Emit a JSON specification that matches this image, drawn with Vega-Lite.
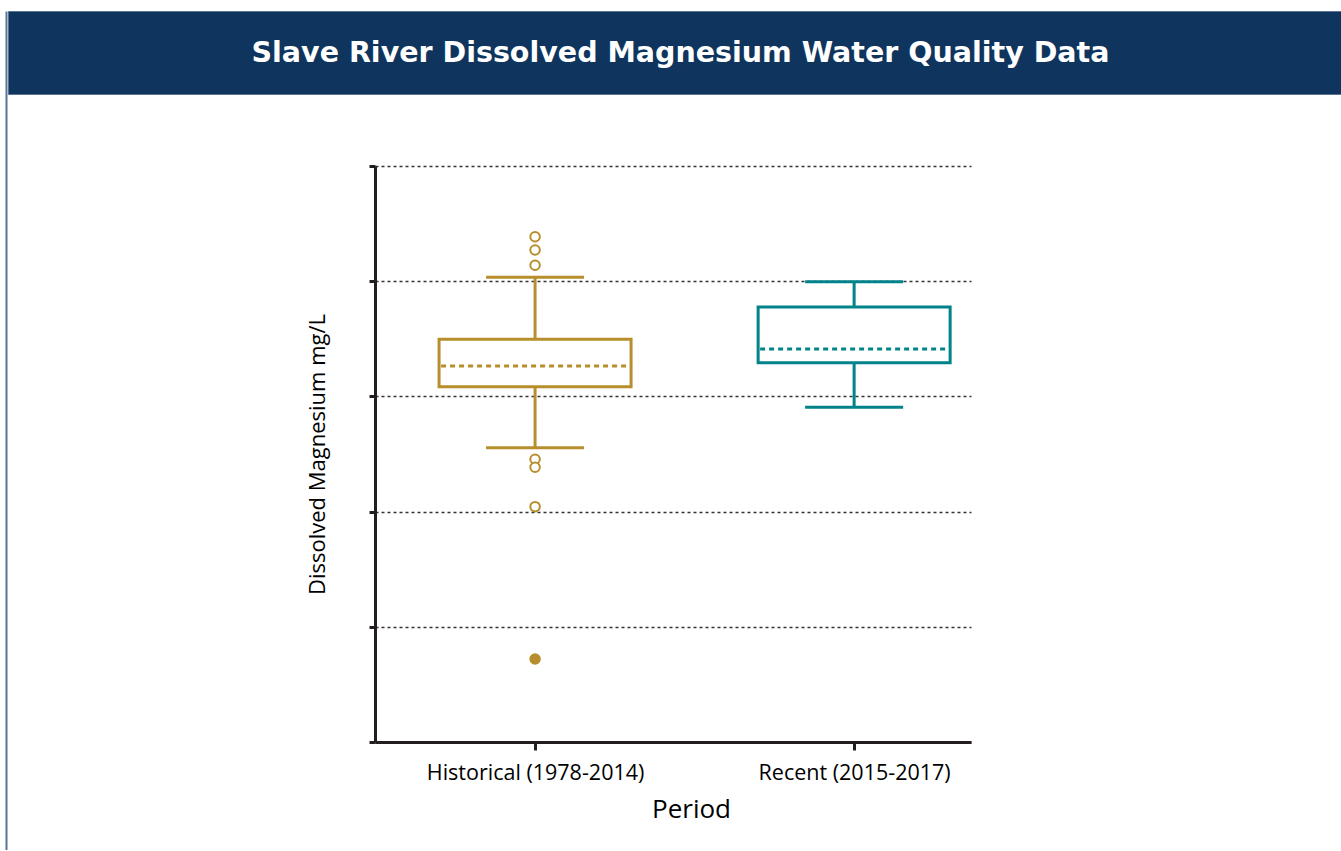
{
  "$schema": "https://vega.github.io/schema/vega-lite/v6.json",
  "background": "white",
  "padding": {"left": 6, "top": 10, "right": 0, "bottom": 0},
  "config": {"view": {"stroke": null}, "font": "Open Sans"},
  "spacing": 0,
  "datasets": {
    "boxes": [
      {"period": "Historical (1978-2014)", "lower": 2.555, "q1": 3.084, "median": 3.264, "q3": 3.496, "upper": 4.034},
      {"period": "Recent (2015-2017)", "lower": 2.905, "q1": 3.293, "median": 3.411, "q3": 3.776, "upper": 3.996}
    ],
    "outliers": [
      {"period": "Historical (1978-2014)", "value": 4.386, "kind": "outlier"},
      {"period": "Historical (1978-2014)", "value": 4.271, "kind": "outlier"},
      {"period": "Historical (1978-2014)", "value": 4.138, "kind": "outlier"},
      {"period": "Historical (1978-2014)", "value": 2.454, "kind": "outlier"},
      {"period": "Historical (1978-2014)", "value": 2.385, "kind": "outlier"},
      {"period": "Historical (1978-2014)", "value": 2.043, "kind": "outlier"},
      {"period": "Historical (1978-2014)", "value": 0.72, "kind": "extreme"}
    ]
  },
  "hconcat": [
    {
      "width": 1,
      "height": 839,
      "data": {"values": [{"v": 0}]},
      "mark": {"type": "point", "opacity": 0, "size": 0, "strokeWidth": 0},
      "encoding": {
        "y": {"field": "v", "type": "quantitative", "axis": {"domainColor": "#5a7594", "domainWidth": 2, "ticks": false, "labels": false, "grid": false, "title": null}}
      }
    },
    {
      "spacing": 69,
      "vconcat": [
        {
          "width": 1333,
          "height": 83,
          "view": {"fill": "#0f355e", "stroke": "#5a7594", "strokeWidth": 1},
          "data": {"values": [{"t": "Slave River Dissolved Magnesium Water Quality Data"}]},
          "mark": {"type": "text", "font": "DejaVu Sans", "fontSize": 28.5, "fontWeight": "bold", "color": "white", "baseline": "middle", "align": "center", "dx": 6},
          "encoding": {"text": {"field": "t"}}
        },
        {
          "spacing": 0,
          "hconcat": [
            {
              "width": 298,
              "height": 1,
              "data": {"values": [{"v": 0}]},
              "mark": {"type": "point", "opacity": 0, "size": 0, "strokeWidth": 0}
            },
            {
              "width": 596,
              "height": 576,
              "encoding": {
                "x": {
                  "field": "period", "type": "nominal",
                  "scale": {"type": "point", "padding": 0.434, "align": 0.578, "domain": ["Historical (1978-2014)", "Recent (2015-2017)"]},
                  "axis": {
                    "title": "Period", "titleFontSize": 26, "titleFontWeight": "normal", "titleColor": "black", "titleFont": "Open Sans", "titlePadding": 13,
                    "titleX": 316, "titleAlign": "center",
                    "labelFontSize": 21.5, "labelColor": "black", "labelFont": "Open Sans", "labelPadding": 12, "labelAngle": 0, "labelLimit": 0,
                    "domainColor": "#231f20", "domainWidth": 3, "tickColor": "#231f20", "tickWidth": 3, "tickSize": 8, "grid": false
                  }
                }
              },
              "layer": [
                {
                  "data": {"name": "boxes"},
                  "mark": {"type": "rule", "strokeWidth": 3},
                  "encoding": {
                    "y": {
                      "field": "lower", "type": "quantitative",
                      "scale": {"domain": [0, 5], "nice": false, "zero": false},
                      "axis": {
                        "values": [0, 1, 2, 3, 4, 5], "labels": false, "title": "Dissolved Magnesium mg/L",
                        "titleFontSize": 22, "titleFontWeight": "normal", "titleColor": "black", "titleFont": "Open Sans", "titlePadding": 38,
                        "domainColor": "#231f20", "domainWidth": 3, "tickColor": "#231f20", "tickWidth": 3, "tickSize": 6,
                        "grid": true, "gridColor": "#333333", "gridDash": [3, 3], "gridWidth": 1.5
                      }
                    },
                    "y2": {"field": "upper"},
                    "stroke": {"field": "period", "type": "nominal", "scale": {"domain": ["Historical (1978-2014)", "Recent (2015-2017)"], "range": ["#b68f2c", "#00838a"]}, "legend": null}
                  }
                },
                {
                  "data": {"name": "boxes"},
                  "mark": {"type": "bar", "size": 192, "fill": "white", "strokeWidth": 3},
                  "encoding": {
                    "y": {"field": "q1", "type": "quantitative"},
                    "y2": {"field": "q3"},
                    "stroke": {"field": "period", "type": "nominal", "legend": null}
                  }
                },
                {
                  "data": {"name": "boxes"},
                  "mark": {"type": "rule", "strokeWidth": 3, "strokeDash": [5, 4], "xOffset": -94, "x2Offset": 94},
                  "encoding": {
                    "y": {"field": "median", "type": "quantitative"},
                    "x2": {"field": "period"},
                    "stroke": {"field": "period", "type": "nominal", "legend": null}
                  }
                },
                {
                  "data": {"name": "boxes"},
                  "mark": {"type": "rule", "strokeWidth": 3, "xOffset": -49, "x2Offset": 49},
                  "encoding": {
                    "y": {"field": "lower", "type": "quantitative"},
                    "x2": {"field": "period"},
                    "stroke": {"field": "period", "type": "nominal", "legend": null}
                  }
                },
                {
                  "data": {"name": "boxes"},
                  "mark": {"type": "rule", "strokeWidth": 3, "xOffset": -49, "x2Offset": 49},
                  "encoding": {
                    "y": {"field": "upper", "type": "quantitative"},
                    "x2": {"field": "period"},
                    "stroke": {"field": "period", "type": "nominal", "legend": null}
                  }
                },
                {
                  "data": {"name": "outliers"},
                  "mark": {"type": "point", "shape": "circle", "size": 90, "strokeWidth": 2, "opacity": 1},
                  "encoding": {
                    "y": {"field": "value", "type": "quantitative"},
                    "stroke": {"field": "period", "type": "nominal", "legend": null},
                    "fill": {"field": "kind", "type": "nominal", "scale": {"domain": ["outlier", "extreme"], "range": ["white", "#b68f2c"]}, "legend": null}
                  }
                }
              ]
            }
          ]
        }
      ]
    }
  ]
}
